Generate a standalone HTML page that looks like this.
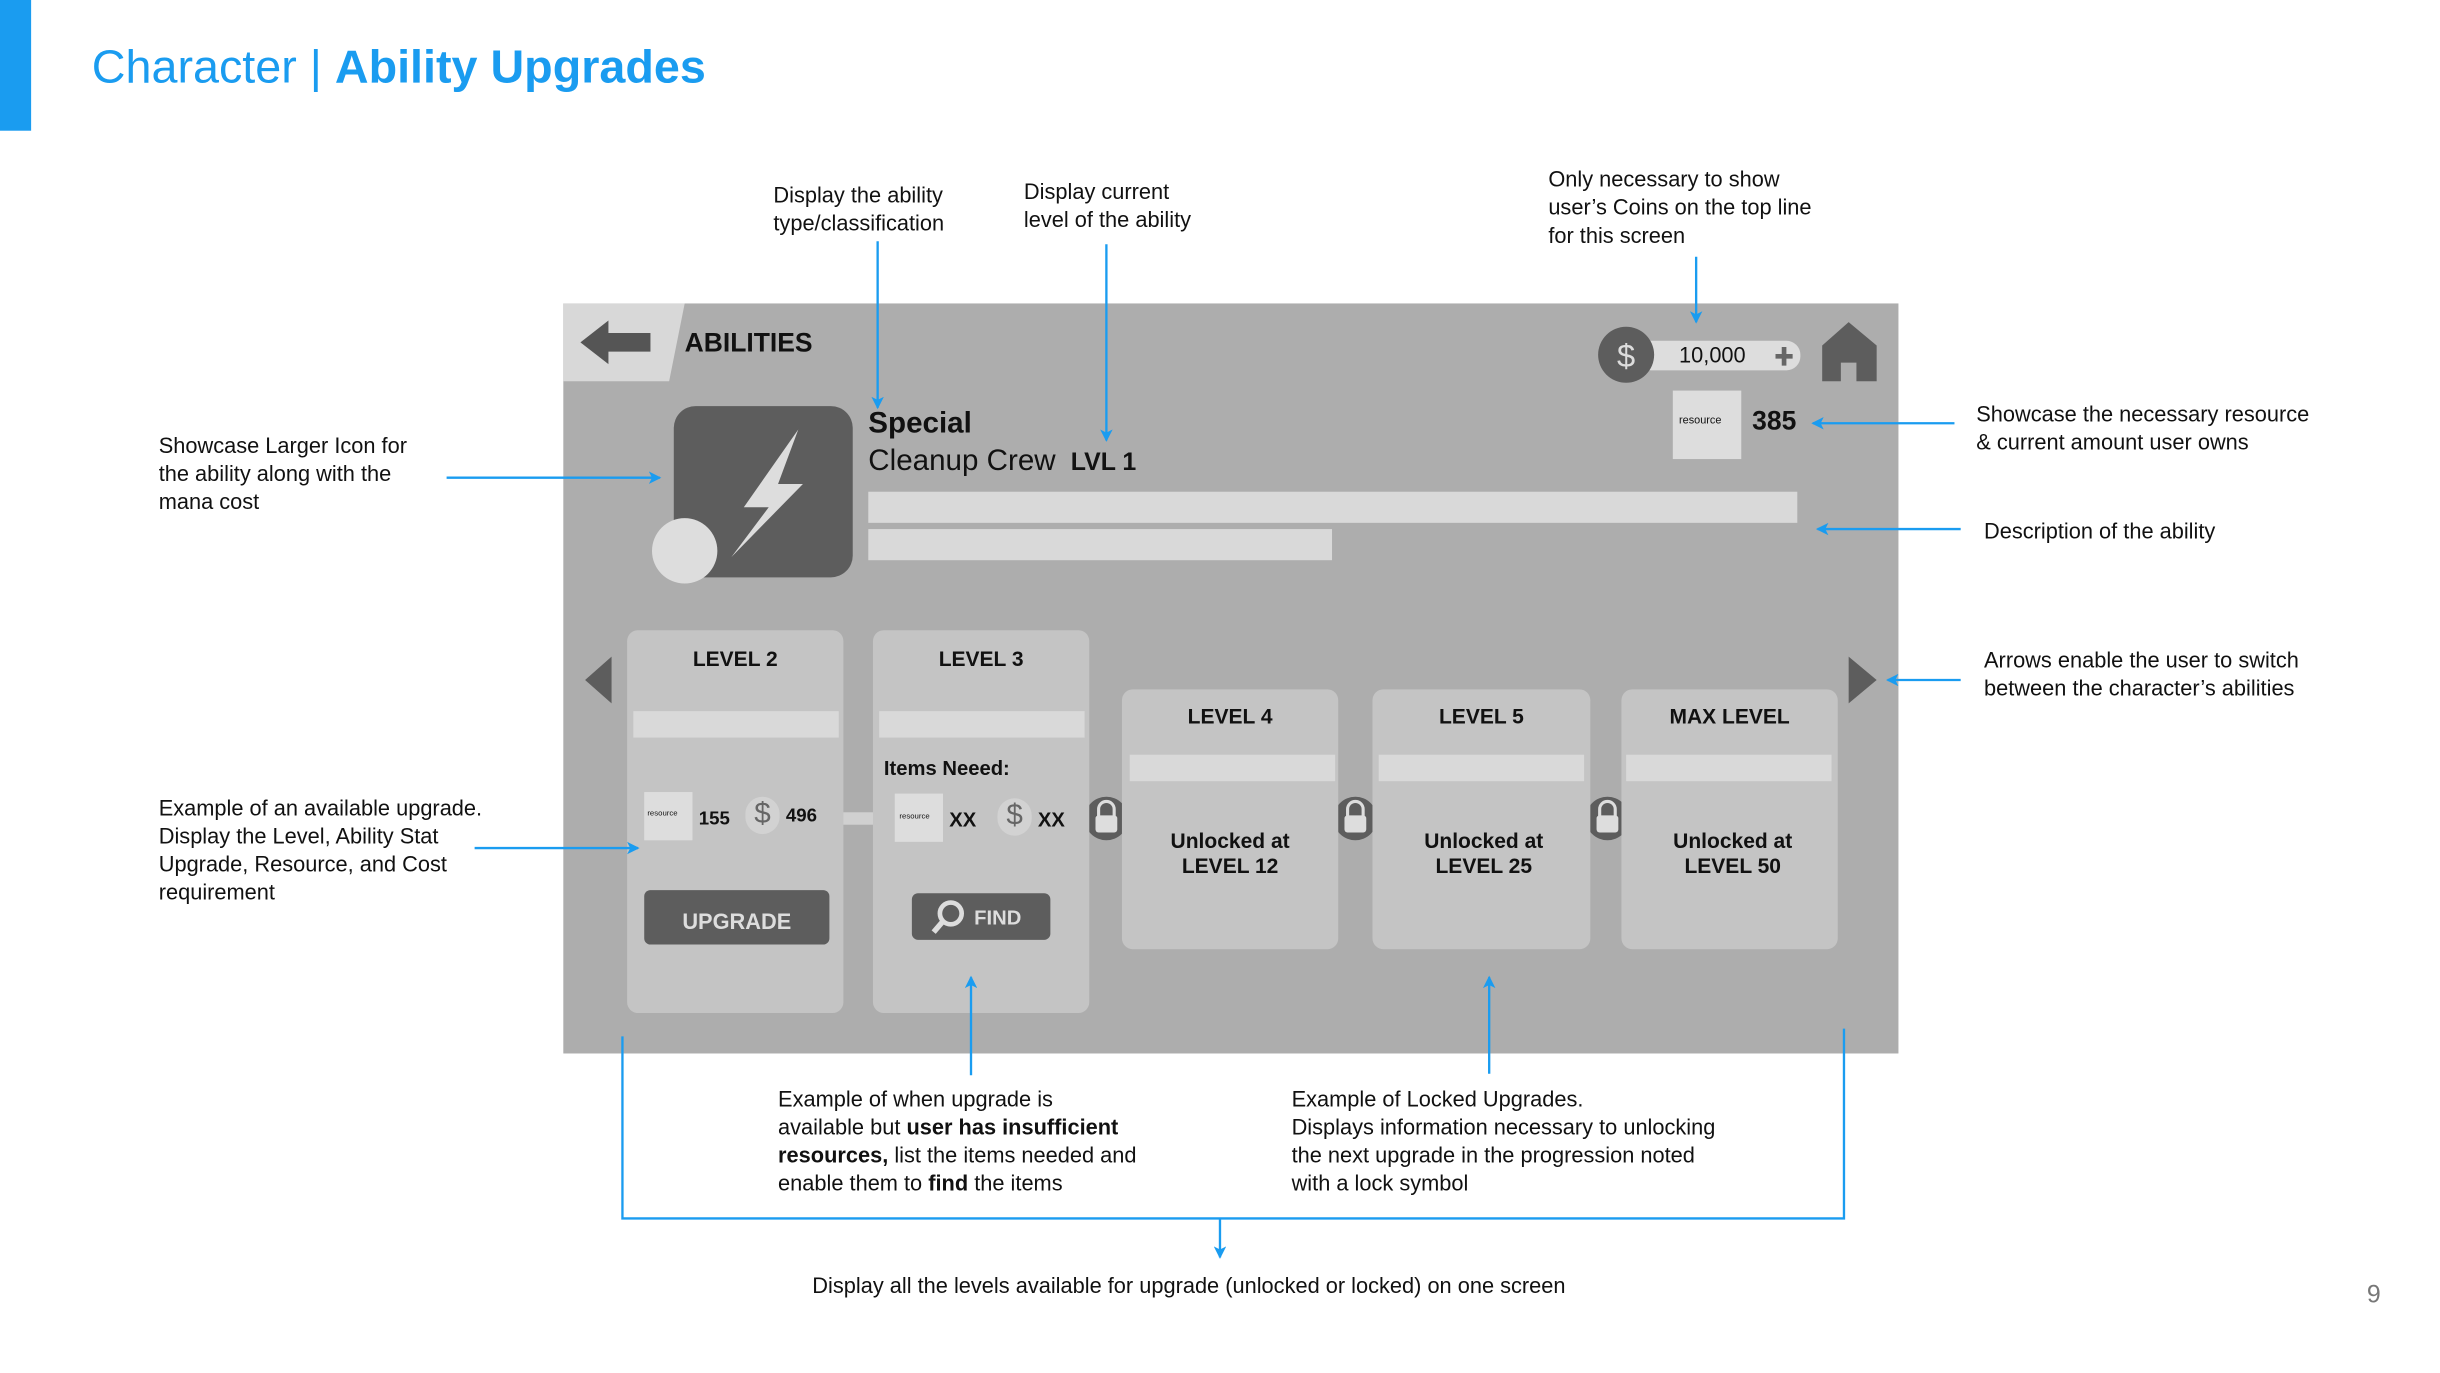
<!DOCTYPE html>
<html><head><meta charset="utf-8"><style>
html,body{margin:0;padding:0;background:#fff;}
#w{position:relative;width:2440px;height:1373px;overflow:hidden;}
#s{position:absolute;left:0;top:0;width:1568px;height:882px;transform:scale(1.5561);transform-origin:0 0;font-family:"Liberation Sans",sans-serif;}
.a{position:absolute;}
.t{position:absolute;font-size:14px;line-height:18px;color:#111;white-space:nowrap;}
.card{position:absolute;background:#c4c4c4;border-radius:7px;}
.bar{position:absolute;background:#d9d9d9;}
.h{position:absolute;font-weight:bold;font-size:13.5px;text-align:center;color:#111;}
.b{font-weight:bold;}
</style></head><body><div id="w"><div id="s">
<div class="a" style="left:0;top:0;width:20px;height:84px;background:#1a9cf0"></div>
<div class="t" style="left:59px;top:26px;font-size:30px;line-height:36px;color:#1a9cf0">Character | <b>Ability Upgrades</b></div>

<div class="a" style="left:362px;top:195px;width:858px;height:482px;background:#adadad"></div>
<svg class="a" style="left:0;top:0" width="1568" height="882">
<polygon points="362,195 440,195 430,245 362,245" fill="#d8d8d8"/>
<path d="M373,220 L391,206 L391,214 L418,214 L418,226 L391,226 L391,234 Z" fill="#555"/>
<rect x="1052" y="219" width="105" height="19" rx="9" fill="#ddd"/>
<circle cx="1045" cy="228" r="18" fill="#5d5d5d"/>
<text x="1045" y="236" font-size="21" fill="#ddd" text-anchor="middle" font-family="Liberation Sans">$</text>
<path d="M1141,229h11M1146.5,223v12" stroke="#666" stroke-width="3"/>
<path d="M1171,245 L1171,222 L1188,207 L1206,222 L1206,245 L1193,245 L1193,233 L1183,233 L1183,245 Z" fill="#5d5d5d"/>
<rect x="1075" y="251" width="44" height="44" fill="#ddd"/>
<rect x="433" y="261" width="115" height="110" rx="14" fill="#5d5d5d"/>
<path d="M513,276 L478,326 L494,326 L470,358 L516,311 L500,311 Z" fill="#ddd"/>
<circle cx="440" cy="354" r="21" fill="#ddd"/>
<polygon points="393,422 393,452 376,437" fill="#5d5d5d"/>
<polygon points="1188,422 1188,452 1206,437" fill="#5d5d5d"/>
<rect x="540" y="522" width="24" height="8" fill="#d0d0d0"/>
<g fill="#5d5d5d"><circle cx="711" cy="526" r="14"/><circle cx="871" cy="526" r="14"/><circle cx="1033" cy="526" r="14"/></g>
<g fill="none" stroke="#ddd" stroke-width="2"><path d="M706,525v-5a5,5 0 0 1 10,0v5"/><path d="M866,525v-5a5,5 0 0 1 10,0v5"/><path d="M1028,525v-5a5,5 0 0 1 10,0v5"/></g>
<g fill="#ddd"><rect x="704" y="524" width="14" height="11" rx="2"/><rect x="864" y="524" width="14" height="11" rx="2"/><rect x="1026" y="524" width="14" height="11" rx="2"/></g>
</svg>
<div class="t b" style="left:440px;top:211px;font-size:17px;line-height:20px">ABILITIES</div>
<div class="t" style="left:1079px;top:219px;font-size:14px">10,000</div>
<div class="t" style="left:1079px;top:267px;font-size:7px;line-height:8px">resource</div>
<div class="t b" style="left:1126px;top:261px;font-size:17px;line-height:20px">385</div>
<div class="t b" style="left:558px;top:262px;font-size:19px;line-height:22px">Special</div>
<div class="t" style="left:558px;top:286px;font-size:19px;line-height:22px">Cleanup Crew <b style="font-size:16px">&nbsp;LVL 1</b></div>
<div class="bar" style="left:558px;top:316px;width:597px;height:20px"></div>
<div class="bar" style="left:558px;top:340px;width:298px;height:20px"></div>

<div class="card" style="left:403px;top:405px;width:139px;height:246px"></div>
<div class="card" style="left:561px;top:405px;width:139px;height:246px"></div>
<div class="card" style="left:721px;top:443px;width:139px;height:167px"></div>
<div class="card" style="left:882px;top:443px;width:140px;height:167px"></div>
<div class="card" style="left:1042px;top:443px;width:139px;height:167px"></div>
<div class="h" style="left:403px;top:416px;width:139px">LEVEL 2</div>
<div class="h" style="left:561px;top:416px;width:139px">LEVEL 3</div>
<div class="h" style="left:721px;top:453px;width:139px">LEVEL 4</div>
<div class="h" style="left:882px;top:453px;width:140px">LEVEL 5</div>
<div class="h" style="left:1042px;top:453px;width:139px">MAX LEVEL</div>
<div class="bar" style="left:407px;top:457px;width:132px;height:17px"></div>
<div class="bar" style="left:565px;top:457px;width:132px;height:17px"></div>
<div class="bar" style="left:726px;top:485px;width:132px;height:17px"></div>
<div class="bar" style="left:886px;top:485px;width:132px;height:17px"></div>
<div class="bar" style="left:1045px;top:485px;width:132px;height:17px"></div>
<div class="h" style="left:721px;top:533px;width:139px;line-height:16px">Unlocked at<br>LEVEL 12</div>
<div class="h" style="left:882px;top:533px;width:143px;line-height:16px">Unlocked at<br>LEVEL 25</div>
<div class="h" style="left:1042px;top:533px;width:143px;line-height:16px">Unlocked at<br>LEVEL 50</div>
<div class="t b" style="left:568px;top:485px;font-size:13px">Items Neeed:</div>
<div class="bar" style="left:414px;top:509px;width:31px;height:31px;background:#ddd"></div>
<div class="t" style="left:416px;top:520px;font-size:5px;line-height:6px">resource</div>
<div class="t b" style="left:449px;top:517px;font-size:12px">155</div>
<div class="a" style="left:479px;top:512px;width:22px;height:24px;border-radius:11px;background:#d2d2d2;font-size:19px;line-height:24px;text-align:center;color:#666">$</div>
<div class="t b" style="left:505px;top:515px;font-size:12px">496</div>
<div class="bar" style="left:575px;top:510px;width:31px;height:31px;background:#ddd"></div>
<div class="t" style="left:578px;top:522px;font-size:5px;line-height:6px">resource</div>
<div class="t b" style="left:610px;top:518px;font-size:13px">XX</div>
<div class="a" style="left:641px;top:513px;width:22px;height:24px;border-radius:11px;background:#d2d2d2;font-size:19px;line-height:24px;text-align:center;color:#666">$</div>
<div class="t b" style="left:667px;top:518px;font-size:13px">XX</div>
<div class="a" style="left:414px;top:572px;width:119px;height:35px;background:#5d5d5d;border-radius:4px;color:#ddd;font-weight:bold;font-size:14px;line-height:40px;text-align:center">UPGRADE</div>
<div class="a" style="left:586px;top:574px;width:89px;height:30px;background:#5d5d5d;border-radius:4px;color:#ddd;font-weight:bold;font-size:13px;line-height:32px;text-indent:40px">FIND</div>
<svg class="a" style="left:596px;top:577px" width="28" height="26"><circle cx="15" cy="10" r="7" fill="none" stroke="#ddd" stroke-width="3"/><path d="M10,15 L4,22" stroke="#ddd" stroke-width="3.5"/></svg>

<svg class="a" style="left:0;top:0" width="1568" height="882">
<defs><marker id="m" markerWidth="8" markerHeight="8" refX="7" refY="4" orient="auto" markerUnits="userSpaceOnUse"><path d="M0,0 L8,4 L0,8 L2,4 Z" fill="#1a9cf0"/></marker></defs>
<g stroke="#1a9cf0" stroke-width="1.5" fill="none" marker-end="url(#m)">
<path d="M564,155V262"/><path d="M711,157V283"/><path d="M1090,165V207"/>
<path d="M287,307H424"/><path d="M1256,272H1165"/><path d="M1260,340H1168"/><path d="M1260,437H1213"/>
<path d="M305,545H410"/><path d="M624,691V628"/><path d="M957,690V628"/><path d="M784,783V808"/>
</g>
<path d="M400,666V783H1185V661" stroke="#1a9cf0" stroke-width="1.5" fill="none"/>
</svg>

<div class="t" style="left:497px;top:116px">Display the ability<br>type/classification</div>
<div class="t" style="left:658px;top:114px">Display current<br>level of the ability</div>
<div class="t" style="left:995px;top:106px">Only necessary to show<br>user’s Coins on the top line<br>for this screen</div>
<div class="t" style="left:102px;top:277px">Showcase Larger Icon for<br>the ability along with the<br>mana cost</div>
<div class="t" style="left:1270px;top:257px">Showcase the necessary resource<br>&amp; current amount user owns</div>
<div class="t" style="left:1275px;top:332px">Description of the ability</div>
<div class="t" style="left:1275px;top:415px">Arrows enable the user to switch<br>between the character’s abilities</div>
<div class="t" style="left:102px;top:510px">Example of an available upgrade.<br>Display the Level, Ability Stat<br>Upgrade, Resource, and Cost<br>requirement</div>
<div class="t" style="left:500px;top:697px">Example of when upgrade is<br>available but <b>user has insufficient<br>resources,</b> list the items needed and<br>enable them to <b>find</b> the items</div>
<div class="t" style="left:830px;top:697px">Example of Locked Upgrades.<br>Displays information necessary to unlocking<br>the next upgrade in the progression noted<br>with a lock symbol</div>
<div class="t" style="left:522px;top:817px">Display all the levels available for upgrade (unlocked or locked) on one screen</div>
<div class="t" style="left:1521px;top:824px;font-size:16px;color:#777">9</div>
</div></div></body></html>
